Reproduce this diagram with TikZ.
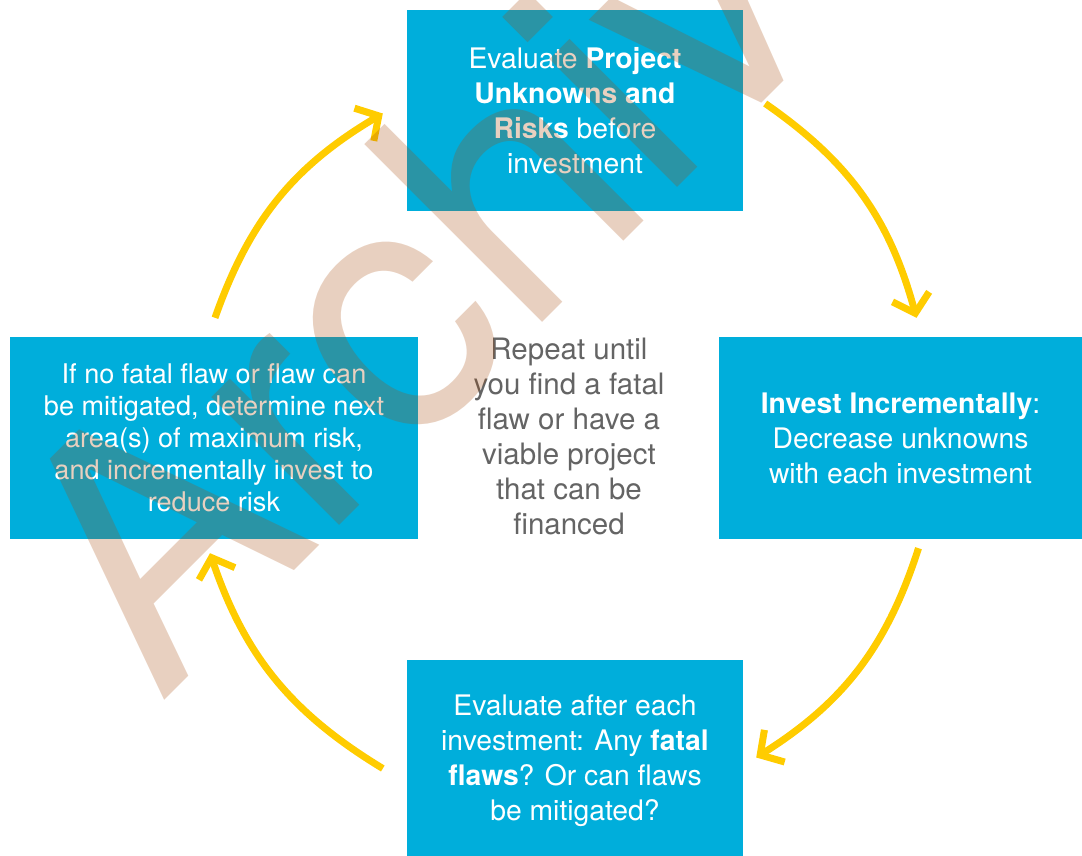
\documentclass[tikz,border=0pt]{standalone}
\usepackage{fontspec}
\setmainfont{TeX Gyre Heros}
\usetikzlibrary{arrows.meta}
\definecolor{boxblue}{RGB}{0,174,219}
\definecolor{loopyellow}{RGB}{255,204,0}
\definecolor{notegray}{RGB}{100,100,100}
\definecolor{wmark}{RGB}{165,72,8}

\begin{document}
\begin{tikzpicture}[x=1pt,y=1pt]

    \tikzset{
      stepcard/.style={
        fill=boxblue,
        text=white,
        align=center,
        inner sep=0pt,
        font=\fontsize{28.3}{35}\selectfont,
      },
      flowarc/.style={
        draw=loopyellow,
        line width=7pt,
        -{Straight Barb[length=17pt,width=38pt,sharp]},
      },
    }
    \useasboundingbox (0,0) rectangle (1082,-856);

    % the four steps
    \node[stepcard, minimum width=336pt, minimum height=201pt] (unknowns) at (575,-110.5)
      {Evaluate \textbf{Project}\\ \textbf{Unknowns and}\\ \textbf{Risks} before\\ investment};
    \node[stepcard, minimum width=363pt, minimum height=202pt] (invest) at (900.5,-438)
      {\textbf{Invest Incrementally}:\\ Decrease unknowns\\ with each investment};
    \node[stepcard, minimum width=336pt, minimum height=201pt] (evaluate) at (575,-760.5)
      {Evaluate after each\\ investment: Any \textbf{fatal}\\ \textbf{flaws}? Or can flaws\\ be mitigated?};
    \node[stepcard, minimum width=408pt, minimum height=202pt,
      font=\fontsize{27.1}{32}\selectfont] (mitigate) at (214,-438)
      {If no fatal flaw or flaw can\\ be mitigated, determine next\\ area(s) of maximum risk,\\ and incrementally invest to\\ reduce risk};
    \node[align=center, text=notegray, font=\fontsize{29.5}{35}\selectfont] (repeat) at (569,-436)
      {Repeat until\\ you find a fatal\\ flaw or have a\\ viable project\\ that can be\\ financed};

    % loop arrows
    \draw[flowarc] ([shift={(1,19)}]mitigate.north) to[bend left=20] ([shift={(-24,-3)}]unknowns.west);
    \draw[flowarc] ([shift={(22,7)}]unknowns.east) to[bend left=20] ([shift={(16,19)}]invest.north);
    \draw[flowarc] ([shift={(18,-9)}]invest.south) to[bend left=20] ([shift={(13,3)}]evaluate.east);
    \draw[flowarc] ([shift={(-24,-8)}]evaluate.west) to[bend left=20] ([shift={(-4,-14)}]mitigate.south);

    % stamp over everything
    \begin{scope}
      \clip (0,0) rectangle (1082,-856);
      \node[rotate=45, anchor=base west, inner sep=0pt, text=wmark, opacity=0.255,
        font=\fontsize{345}{345}\selectfont] (stamp) at (160,-705) {Archiv};
    \end{scope}

\end{tikzpicture}
\end{document}
